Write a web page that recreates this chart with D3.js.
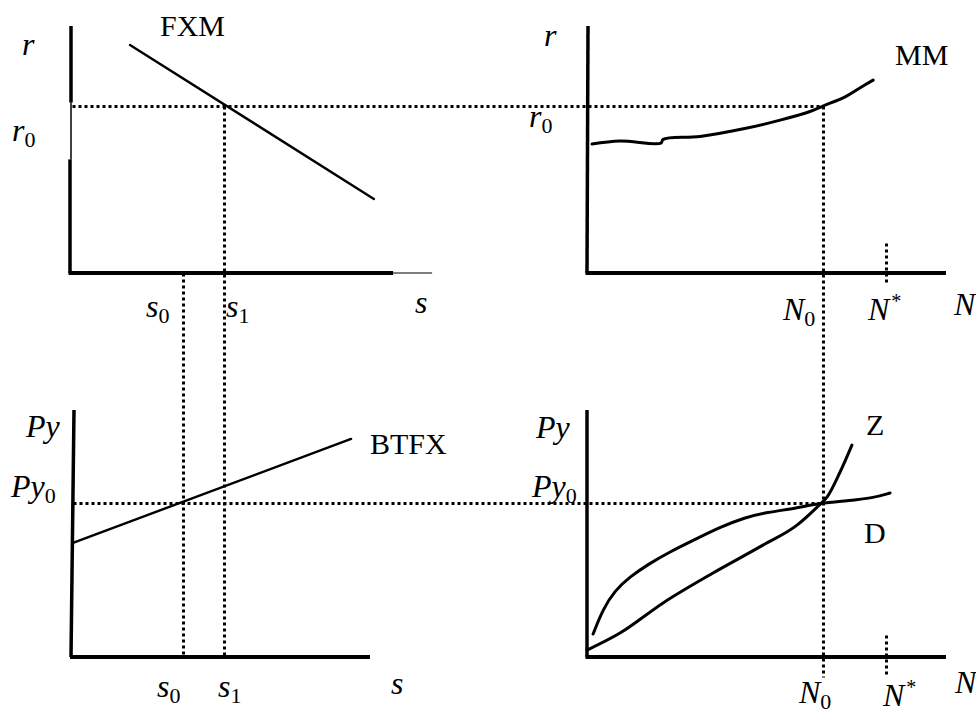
<!DOCTYPE html>
<html>
<head>
<meta charset="utf-8">
<script src="https://cdn.jsdelivr.net/npm/d3@7"></script>
<style>
  body { margin: 0; background: #fff; }
  text { font-family: "Liberation Serif", "Times New Roman", serif; fill: #000; }
  .math { font-style: italic; font-size: 32px; }
  .name { font-size: 30px; }
</style>
</head>
<body>
<div id="chart"></div>
<script>
// values in diagram units (0..100 on each axis of a panel)
const r0 = 67.6;          // interest rate level
const py0 = 62.3;         // price level
const sLevels = [37.7, 51.3];   // s0, s1
const nLevels = [65.7, 83.3];   // N0, N*

const fxmCurve = [[20, 92.3], [101.3, 30.0]];
const btfxCurve = [[1, 46.2], [93.7, 88.3]];
const mmCurve = [[1.4, 52.2], [9.2, 53.4], [20.6, 52.6], [21.2, 54.1], [31.5, 55.3],
  [44.6, 58.7], [53.8, 61.9], [62.1, 65.4], [65.7, 67.6], [71.9, 71.3], [76.0, 74.9], [79.7, 78.1]];
const dCurve = [[1.7, 9.3], [4.5, 19.5], [7.8, 27.0], [12.0, 32.5], [17.0, 37.5], [23.0, 42.5],
  [30.0, 47.5], [37.0, 52.5], [44.0, 56.5], [50.0, 58.5], [58.5, 60.3], [64.9, 62.3],
  [72.4, 63.2], [79.7, 64.4], [84.4, 66.4]];
const zCurve = [[0, 2.8], [9.2, 9.7], [21.2, 21.9], [35.1, 34.0], [49.0, 45.3], [58.5, 53.4],
  [64.1, 60.7], [66.9, 64.8], [70.5, 74.9], [73.8, 85.8]];

const width = 976, height = 715;

// scales: left/right columns, top/bottom rows
const xL = d3.scaleLinear().domain([0, 100]).range([70, 370]);
const xR = d3.scaleLinear().domain([0, 100]).range([587, 946]);
const yT = d3.scaleLinear().domain([0, 100]).range([273, 26]);
const yB = d3.scaleLinear().domain([0, 100]).range([657, 410]);

const svg = d3.select('#chart').append('svg')
    .attr('width', width)
    .attr('height', height)

function seg(x1, y1, x2, y2, w) {
    return svg.append('line')
        .attr('x1', x1).attr('y1', y1).attr('x2', x2).attr('y2', y2)
        .attr('stroke', '#000')
        .attr('stroke-width', w)
}

// dotted guides, snapped to the pixel grid so the dots stay crisp
function dotted(x1, y1, x2, y2) {
    const snap = v => Math.round(v) + 0.5
    return svg.append('line')
        .attr('x1', snap(x1)).attr('y1', snap(y1)).attr('x2', snap(x2)).attr('y2', snap(y2))
        .attr('stroke', '#000')
        .attr('stroke-width', 3)
        .attr('stroke-dasharray', '3,3')
}

function curve(data, xs, ys, w, kind) {
    const line = d3.line()
        .x(d => xs(d[0]))
        .y(d => ys(d[1]))
        .curve(kind || d3.curveCatmullRom)
    svg.append('path')
        .attr('d', line(data))
        .attr('fill', 'none')
        .attr('stroke', '#000')
        .attr('stroke-width', w)
        .attr('stroke-linecap', 'round')
}

// dotted guide lines first
dotted(xL(0) + 2, yT(r0), xR(nLevels[0]), yT(r0))
dotted(xL(0) + 3, yB(py0), xR(nLevels[0]), yB(py0))
dotted(xL(sLevels[1]), yT(r0), xL(sLevels[1]), yB(0))
dotted(xL(sLevels[0]), yT(0), xL(sLevels[0]), yB(0))
dotted(xR(nLevels[0]), yT(r0), xR(nLevels[0]), yB(0) + 20)
dotted(xR(nLevels[1]), yT(12), xR(nLevels[1]), yT(-4.5))
dotted(xR(nLevels[1]), yB(9), xR(nLevels[1]), yB(-8))

// axes
// top-left (slight break in the vertical axis near r0)
seg(xL(0) + 1, yT(100), xL(0) + 1, yT(69), 3.5)
seg(xL(0) + 1, yT(69), xL(0) + 1, yT(46), 1.5)
seg(xL(0), yT(46), xL(0), yT(0), 3.5)
seg(xL(0) - 1.5, yT(0), xL(107.7), yT(0), 3.8)
seg(xL(107.7), yT(0), xL(120.7), yT(0), 1.2)
// top-right
seg(xR(0) + 1, yT(100), xR(0), yT(0), 3.5)
seg(xR(0) - 1.5, yT(0), xR(100), yT(0), 3.8)
// bottom-left
seg(xL(0) + 4, yB(100), xL(0) + 1, yB(0), 3.5)
seg(xL(0), yB(0), xL(100), yB(0), 3.8)
// bottom-right
seg(xR(0), yB(100), xR(0), yB(0), 3.5)
seg(xR(0) - 1.5, yB(0), xR(100), yB(0), 3.8)

// curves
curve(fxmCurve, xL, yT, 2.4)
curve(btfxCurve, xL, yB, 2.4)
curve(mmCurve, xR, yT, 3)
curve(dCurve, xR, yB, 3, d3.curveBasis)
curve(zCurve, xR, yB, 3, d3.curveMonotoneX)

// labels
function label(x, y, main, sub, sup, cls) {
    const t = svg.append('text').attr('x', x).attr('y', y).attr('class', cls || 'math').text(main)
    if (sub) t.append('tspan').attr('dy', 6).style('font-size', '22px').style('font-style', 'normal').text(sub)
    if (sup) t.append('tspan').attr('dx', 2).attr('dy', -12).style('font-size', '20px').style('font-style', 'normal').text(sup)
    return t
}

label(160, 36, 'FXM', null, null, 'name')
label(895, 65, 'MM', null, null, 'name')
label(370, 454, 'BTFX', null, null, 'name')
label(866, 435, 'Z', null, null, 'name')
label(864, 543, 'D', null, null, 'name')

label(22, 55, 'r')
label(12, 141, 'r', '0')
label(146, 317, 's', '0')
label(226, 317, 's', '1')
label(415, 313, 's')

label(544, 46, 'r')
label(529, 127, 'r', '0')
label(783, 320, 'N', '0')
label(868, 320, 'N', null, '*')
label(954, 315, 'N')

label(26, 437, 'Py')
label(11, 497, 'Py', '0')
label(157, 697, 's', '0')
label(218, 697, 's', '1')
label(391, 694, 's')

label(536, 438, 'Py')
label(532, 497, 'Py', '0')
label(799, 703, 'N', '0')
label(883, 706, 'N', null, '*')
label(955, 693, 'N')
</script>
</body>
</html>
